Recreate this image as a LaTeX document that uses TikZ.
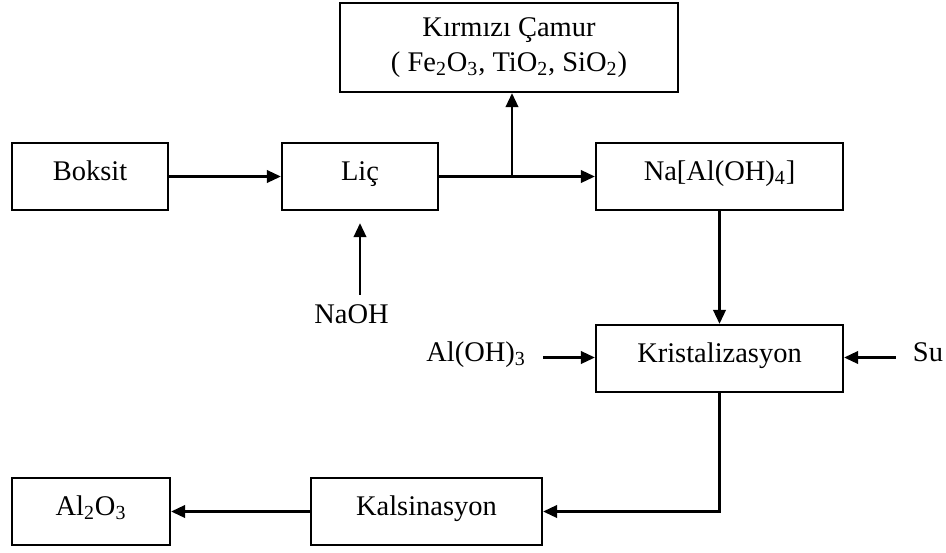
\documentclass[tikz,border=0pt]{standalone}
\usepackage{fontspec}
\setmainfont{Liberation Serif}
\usepackage{tikz}
\usetikzlibrary{positioning,arrows.meta}

\newcommand{\chsub}[1]{\textsubscript{#1}}

\tikzset{
  block/.style={draw, line width=1.3pt, minimum height=1.34cm, inner sep=0pt,
    align=center, font=\fontsize{16.2}{19.5}\selectfont},
  oneline/.style={text height=0.66em, text depth=0.24em},
  feed/.style={inner sep=0.34cm, text height=0.66em, text depth=0.24em,
    font=\fontsize{16.2}{19.5}\selectfont},
  flow/.style={line width=1.3pt, -{Triangle[length=0.28cm,width=0.25cm]}},
  pipe/.style={line width=1.3pt}
}

\begin{document}
\begin{tikzpicture}[x=0.02cm,y=-0.02cm]
  \useasboundingbox (0,0) rectangle (946,552);

  % boxes
  \node[block, minimum width=6.76cm, minimum height=1.78cm] (camur) at (509,47.5)
       {K\i rm\i z\i{} Çamur\\( Fe\chsub{2}O\chsub{3}, TiO\chsub{2}, SiO\chsub{2})};
  \node[block, oneline, minimum width=3.12cm] (boksit) at (90,176.5) {Boksit};
  \node[block, oneline, minimum width=3.12cm] (lic) at (360,176.5) {Liç};
  \node[block, oneline, minimum width=4.94cm] (naal) at (719.5,176.5) {Na[Al(OH)\chsub{4}]};
  \node[block, oneline, minimum width=4.94cm] (kristal) at (719.5,358.5) {Kristalizasyon};
  \node[block, oneline, minimum width=4.62cm] (kalsin) at (426.5,511.5) {Kalsinasyon};
  \node[block, oneline, minimum width=3.16cm] (alumina) at (91,511.5) {Al\chsub{2}O\chsub{3}};

  % feeds
  \node[feed] (naoh) at (351.5,320) {NaOH};
  \node[feed] (aloh) at (476,357.5) {Al(OH)\chsub{3}};
  \node[feed] (su) at (928,357.5) {Su};

  % flows
  \coordinate (split) at (512,176.5);
  \draw[flow] (boksit) -- (lic);
  \draw[pipe] (lic) -- (split);
  \draw[flow] (split) -- (naal);
  \draw[flow] (split) -- (split |- camur.south);
  \draw[flow, shorten >=0.24cm] (naoh.north -| lic.south) -- (lic.south);
  \draw[flow] (naal) -- (kristal);
  \draw[flow] (aloh.east) -- (aloh.east -| kristal.west);
  \draw[flow] (su.west) -- (su.west -| kristal.east);
  \draw[flow] (kristal.south) |- (kalsin.east);
  \draw[flow] (kalsin) -- (alumina);
\end{tikzpicture}
\end{document}
